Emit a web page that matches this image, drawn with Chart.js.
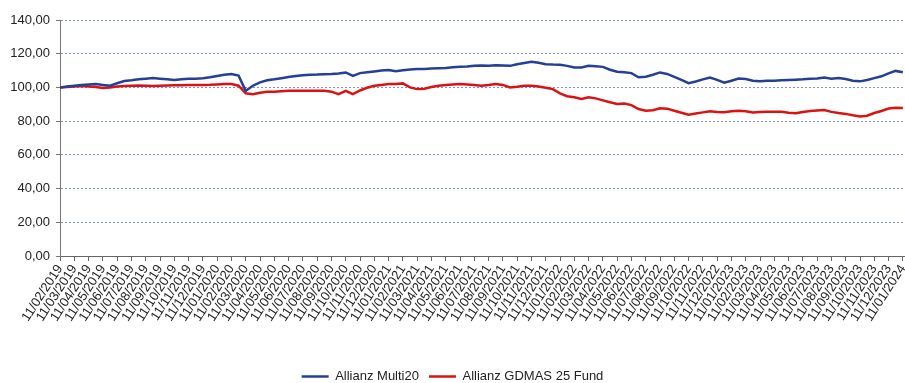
<!DOCTYPE html>
<html>
<head>
<meta charset="utf-8">
<script src="https://cdn.jsdelivr.net/npm/chart.js@4/dist/chart.umd.min.js"></script>
<style>
  html, body { margin: 0; padding: 0; background: #fff; }
  #wrap { width: 905px; height: 383px; }
</style>
</head>
<body>
<div id="wrap"><canvas id="lineChart" width="905" height="383"></canvas></div>
<script>
// monthly tick labels on the x axis
const monthLabels = [
  '11/02/2019', '11/03/2019', '11/04/2019', '11/05/2019', '11/06/2019', '11/07/2019',
  '11/08/2019', '11/09/2019', '11/10/2019', '11/11/2019', '11/12/2019', '11/01/2020',
  '11/02/2020', '11/03/2020', '11/04/2020', '11/05/2020', '11/06/2020', '11/07/2020',
  '11/08/2020', '11/09/2020', '11/10/2020', '11/11/2020', '11/12/2020', '11/01/2021',
  '11/02/2021', '11/03/2021', '11/04/2021', '11/05/2021', '11/06/2021', '11/07/2021',
  '11/08/2021', '11/09/2021', '11/10/2021', '11/11/2021', '11/12/2021', '11/01/2022',
  '11/02/2022', '11/03/2022', '11/04/2022', '11/05/2022', '11/06/2022', '11/07/2022',
  '11/08/2022', '11/09/2022', '11/10/2022', '11/11/2022', '11/12/2022', '11/01/2023',
  '11/02/2023', '11/03/2023', '11/04/2023', '11/05/2023', '11/06/2023', '11/07/2023',
  '11/08/2023', '11/09/2023', '11/10/2023', '11/11/2023', '11/12/2023', '11/01/2024'
];

// values, two samples per month starting at 11/02/2019
const samplesPerMonth = 2;

const multi20 = [
  100, 100.5, 101, 101.5, 101.8, 102, 101.5, 101, 102.5, 103.8,
  104.2, 104.8, 105.2, 105.6, 105.2, 104.8, 104.4, 104.8, 105.2, 105.2,
  105.5, 106, 106.8, 107.5, 108, 107, 98, 101, 103, 104.2,
  104.8, 105.5, 106.2, 106.8, 107.2, 107.5, 107.6, 107.8, 107.9, 108.3,
  108.9, 106.9, 108.5, 109, 109.5, 110, 110.3, 109.6, 110.2, 110.6,
  110.9, 111, 111.2, 111.4, 111.5, 111.9, 112.2, 112.4, 112.9, 113,
  112.9, 113.2, 113, 112.8, 113.8, 114.5, 115.2, 114.6, 113.8, 113.6,
  113.5, 112.8, 111.8, 111.8, 112.9, 112.6, 112.2, 110.5, 109.3, 109,
  108.5, 106, 106.3, 107.5, 108.9, 108, 106.3, 104.5, 102.5, 103.5,
  104.8, 105.9, 104.5, 102.8, 104, 105.3, 105, 104, 103.6, 103.9,
  104, 104.2, 104.4, 104.6, 104.8, 105.2, 105.3, 105.9, 105.2, 105.6,
  105, 104, 103.6, 104.4, 105.5, 106.6, 108.3, 109.8, 109
];

const gdmas25 = [
  100, 100.3, 100.6, 100.8, 100.5, 100.2, 99.7, 100, 100.5, 100.8,
  101, 101.2, 101, 100.8, 101, 101.2, 101.3, 101.3, 101.4, 101.4,
  101.5, 101.6, 101.8, 102, 102, 101, 96.5, 96, 96.8, 97.5,
  97.5, 97.8, 98, 98, 98, 98, 98.1, 98, 97.5, 96,
  98, 96, 98.2, 99.8, 101, 101.5, 102, 102, 102.4, 100,
  99, 99.2, 100.2, 101, 101.4, 101.8, 102, 101.8, 101.4, 101,
  101.4, 102, 101.5, 100, 100.4, 101, 101, 100.5, 99.8, 99,
  96.5, 94.8, 94.2, 93.2, 94.2, 93.5, 92.3, 91.2, 90.2, 90.5,
  89.5, 87.2, 86.2, 86.5, 87.6, 87.4, 86.2, 85, 83.8, 84.5,
  85.2, 85.8, 85.4, 85.3, 85.8, 86.2, 85.9, 85.2, 85.4, 85.5,
  85.6, 85.6, 85, 84.7, 85.4, 86, 86.3, 86.6, 85.5, 84.8,
  84.3, 83.5, 82.8, 83.2, 84.8, 86, 87.5, 88, 87.8
];

const seriesNames = ['Allianz Multi20', 'Allianz GDMAS 25 Fund'];
const yTicks = [0, 20, 40, 60, 80, 100, 120, 140];

function toPoints(values) {
  return values.map((v, i) => ({ x: i / samplesPerMonth, y: v }));
}

const fontFamily = '"Liberation Sans", Arial, sans-serif';

const config = {
  type: 'line',
  data: {
    datasets: [{
      label: seriesNames[0],
      data: toPoints(multi20),
      borderColor: '#233f96',
      backgroundColor: '#233f96',
      borderWidth: 2.5,
      pointRadius: 0,
      tension: 0
    }, {
      label: seriesNames[1],
      data: toPoints(gdmas25),
      borderColor: '#dc1212',
      backgroundColor: '#dc1212',
      borderWidth: 2.5,
      pointRadius: 0,
      tension: 0
    }]
  },
  options: {
    responsive: false,
    animation: false,
    layout: { padding: { top: 20, left: 0, right: 0, bottom: -10 } },
    plugins: {
      tooltip: { enabled: false },
      legend: {
        position: 'bottom',
        labels: {
          usePointStyle: true,
          pointStyle: 'line',
          pointStyleWidth: 27,
          padding: 10,
          color: '#222',
          font: { family: fontFamily, size: 13 }
        }
      }
    },
    scales: {
      x: {
        type: 'linear',
        min: 0,
        max: 59.15,
        afterFit: scale => {
          scale.height = 104;
          scale.paddingLeft = 0;
          scale.paddingRight = 0;
        },
        grid: {
          drawOnChartArea: false,
          drawTicks: true,
          tickLength: 5,
          color: '#666'
        },
        border: { color: '#666', width: 1 },
        ticks: {
          stepSize: 1,
          includeBounds: false,
          autoSkip: false,
          minRotation: 57,
          maxRotation: 57,
          padding: 1,
          color: '#222',
          font: { family: fontFamily, size: 13 },
          callback: v => monthLabels[v] ?? ''
        }
      },
      y: {
        min: 0,
        max: 140,
        afterFit: scale => { scale.width = 60; },
        afterBuildTicks: scale => { scale.ticks = yTicks.map(v => ({ value: v })); },
        grid: {
          color: '#7f91bf',
          tickColor: '#777',
          tickLength: 4,
          tickBorderDash: []
        },
        // in v4 border.dash sets the dash of the gridlines
        border: { color: '#777', width: 1, dash: [2, 2] },
        ticks: {
          padding: 6,
          color: '#222',
          font: { family: fontFamily, size: 13 },
          callback: v => v.toFixed(2).replace('.', ',')
        }
      }
    }
  }
};

const lineChart = new Chart(document.getElementById('lineChart').getContext('2d'), config);
</script>
</body>
</html>
